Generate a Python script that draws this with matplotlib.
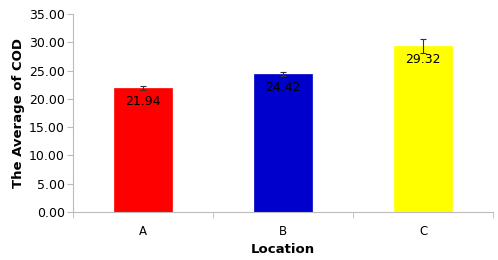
import matplotlib.pyplot as plt
import numpy as np

locations = ["A", "B", "C"]
cod_mean = [21.94, 24.42, 29.32]
cod_err = [0.35, 0.42, 1.24]
bar_colors = ["#ff0000", "#0000cc", "#ffff00"]
ytick_vals = [0, 5, 10, 15, 20, 25, 30, 35]

fig = plt.figure(figsize=(4.98, 2.60), dpi=100)
ax = fig.add_axes([0.1466, 0.1846, 0.8434, 0.7614])

x = np.arange(len(locations))
ax.bar(x, cod_mean, width=0.41, color=bar_colors, edgecolor=bar_colors, linewidth=0.5,
       yerr=cod_err, error_kw=dict(ecolor="#333333", elinewidth=0.8, capsize=2.5, capthick=0.8))

for xi, v in zip(x, cod_mean):
    ax.text(xi, v - 1.2, "%.2f" % v, ha="center", va="top", fontsize=9, color="black")

ax.set_xlim(-0.5, 2.5)
ax.set_ylim(0, 35)
ax.set_yticks(ytick_vals)
ax.set_yticklabels(["%.2f" % t for t in ytick_vals], fontsize=9)
ax.set_xticks(x)
ax.set_xticklabels(locations, fontsize=8.5)
ax.set_xticks(np.arange(-0.5, 3.0, 1.0), minor=True)
ax.tick_params(axis="x", which="major", length=0, pad=9)
ax.tick_params(axis="x", which="minor", length=4, color="#bbbbbb")
ax.tick_params(axis="y", length=4, color="#bbbbbb", pad=2)

for s in ["top", "right"]:
    ax.spines[s].set_visible(False)
ax.spines["left"].set_color("#bbbbbb")
ax.spines["bottom"].set_color("#bbbbbb")

ax.set_xlabel("Location", fontsize=9.5, fontweight="bold", labelpad=4)
ax.set_ylabel("The Average of COD", fontsize=9.5, fontweight="bold", labelpad=3)

fig.savefig("out.png", dpi=100)
